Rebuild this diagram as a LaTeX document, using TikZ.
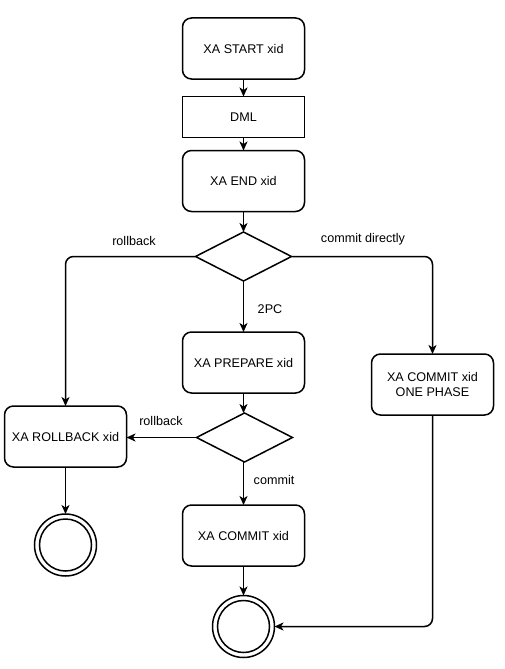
\documentclass[tikz,border=0pt]{standalone}
\usepackage{fontspec}
\setmainfont{Liberation Sans}
\usetikzlibrary{shapes.geometric,arrows.meta}
\begin{document}
\begin{tikzpicture}[x=1pt,y=-1pt,
  box/.style={draw,line width=1.5pt,rounded corners=9pt,minimum width=122pt,minimum height=61pt,align=center,font=\fontsize{12.6}{15}\selectfont,inner sep=0pt,outer sep=0pt},
  sqbox/.style={draw,line width=1.5pt,minimum width=122pt,minimum height=41pt,font=\fontsize{12.6}{15}\selectfont,inner sep=0pt,outer sep=0pt},
  decision/.style={draw,diamond,line width=1.5pt,minimum width=96pt,minimum height=49pt,inner sep=0pt,outer sep=0pt},
  endstate/.style={circle,draw,line width=1.5pt,minimum size=62pt,inner sep=0pt,outer sep=0pt},
  conn/.style={line width=1.5pt,-{Stealth[length=9pt,width=8pt,inset=2.5pt]},rounded corners=8pt},
  lbl/.style={font=\fontsize{12.6}{14}\selectfont,inner sep=0pt}]
\useasboundingbox (0,0) rectangle (504,669);

\node[box] (start) at (243.5,48.5) {XA START xid};
\node[sqbox] (dml) at (243.5,117) {DML};
\node[box] (xend) at (243.5,181) {XA END xid};
\node[decision] (d1) at (243.5,256.5) {};
\node[box] (prep) at (243.5,362.5) {XA PREPARE xid};
\node[decision] (d2) at (244.5,437.5) {};
\node[box] (commit) at (243.5,535.5) {XA COMMIT xid};
\node[endstate] (endc) at (243.5,626.5) {};
\draw[line width=1.5pt] (endc.center) circle (26pt);
\node[box] (rb) at (65.5,436.5) {XA ROLLBACK xid};
\node[endstate] (endl) at (65.5,545) {};
\draw[line width=1.5pt] (endl.center) circle (26pt);
\node[box] (one) at (432.5,384.5) {XA COMMIT xid\\ONE PHASE};

\draw[conn] (start) -- (dml);
\draw[conn] (dml) -- (xend);
\draw[conn] (xend) -- (d1);
\draw[conn] (d1.west) -| (rb.north);
\draw[conn] (d1.east) -| (one.north);
\draw[conn] (d1.south) -- (d1.south |- prep.north);
\draw[conn] (prep.south) -- (prep.south |- d2.north);
\draw[conn] (d2.west) -- (d2.west -| rb.east);
\draw[conn] (d2.south -| commit.north) -- (commit.north);
\draw[conn] (commit.south) -- (endc.north);
\draw[conn] (one.south) |- (endc.east);
\draw[conn] (rb) -- (endl);

\node[lbl] (l1) at (134,241) {rollback};
\node[lbl] (l2) at (363,239) {commit directly};
\node[lbl] (l3) at (270,309) {2PC};
\node[lbl] (l4) at (161,421) {rollback};
\node[lbl] (l5) at (274,480) {commit};
\end{tikzpicture}
\end{document}
